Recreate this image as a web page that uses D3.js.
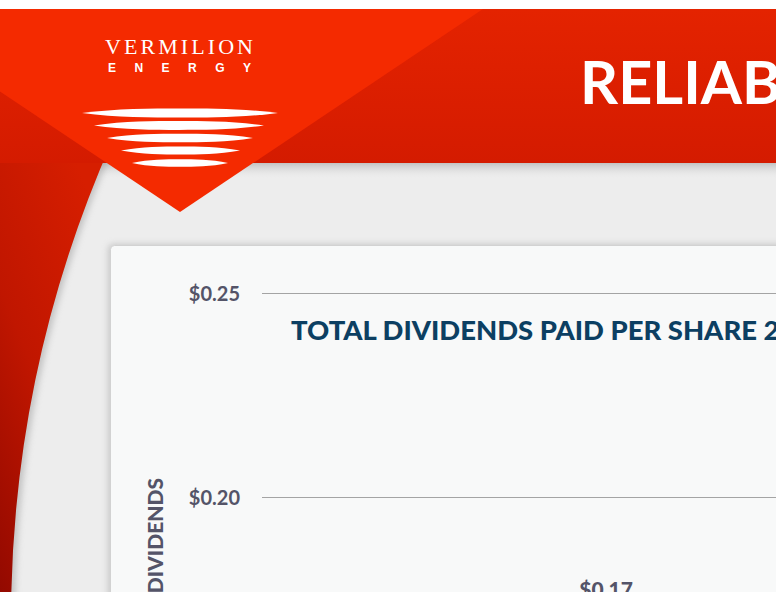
<!DOCTYPE html>
<html>
<head>
<meta charset="utf-8">
<script src="https://cdn.jsdelivr.net/npm/d3@7"></script>
<style>
  html, body { margin: 0; padding: 0; background: #ffffff; }
  svg { display: block; }
</style>
</head>
<body>
<div id="chart"></div>
<script>
// ---- data ----
const periods = ["2003–2007", "2008–2012", "2013"];
const periodStart = [2003, 2008, 2013];
const periodEnd = [2008, 2013, 2014];
const monthlyDividend = [0.17, 0.19, 0.20];
const yTicks = [0, 0.05, 0.10, 0.15, 0.20, 0.25];
const headerText = "RELIABLE DIVIDENDS";
const chartTitle = "TOTAL DIVIDENDS PAID PER SHARE 2003 – 2013";
const yAxisTitle = "DIVIDENDS";

const rows = periods.map((p, i) => ({
  period: p, start: periodStart[i], end: periodEnd[i], value: monthlyDividend[i]
}));

const W = 776, H = 600;
const svg = d3.select("#chart").append("svg").attr("width", W).attr("height", H);
const defs = svg.append("defs");

defs.append("clipPath").attr("id", "frame")
  .append("rect").attr("x", 0).attr("y", 9).attr("width", W).attr("height", 583);

const gBanner = defs.append("linearGradient").attr("id", "banner").attr("x1", 0).attr("y1", 0).attr("x2", 0).attr("y2", 1);
gBanner.append("stop").attr("offset", "0%").attr("stop-color", "#e42300");
gBanner.append("stop").attr("offset", "100%").attr("stop-color", "#d41b00");

const gArc = defs.append("linearGradient").attr("id", "arc").attr("x1", 0.6).attr("y1", 0).attr("x2", 0).attr("y2", 1);
gArc.append("stop").attr("offset", "0%").attr("stop-color", "#d61e00");
gArc.append("stop").attr("offset", "50%").attr("stop-color", "#c01600");
gArc.append("stop").attr("offset", "100%").attr("stop-color", "#920900");

const gShadow = defs.append("linearGradient").attr("id", "bshadow").attr("x1", 0).attr("y1", 0).attr("x2", 0).attr("y2", 1);
gShadow.append("stop").attr("offset", "0%").attr("stop-color", "#b8b8b8").attr("stop-opacity", 0.8);
gShadow.append("stop").attr("offset", "100%").attr("stop-color", "#ececec").attr("stop-opacity", 0);

const blur = defs.append("filter").attr("id", "soft").attr("x", "-10%").attr("y", "-10%").attr("width", "120%").attr("height", "120%");
blur.append("feGaussianBlur").attr("stdDeviation", 3);

const root = svg.append("g").attr("clip-path", "url(#frame)");

// background
root.append("rect").attr("x", 0).attr("y", 0).attr("width", W).attr("height", H).attr("fill", "#ededed");

// banner shadow
root.append("rect").attr("x", 0).attr("y", 163).attr("width", W).attr("height", 16).attr("fill", "url(#bshadow)");

// left red arc
const cx = 1196, cy = 620, R = 1185;
const xAt = yy => cx - Math.sqrt(R * R - (yy - cy) * (yy - cy));
const arcPath = `M0,140 L${xAt(140)},140 A${R},${R} 0 0 0 ${xAt(600)},600 L0,600 Z`;
root.append("path").attr("d", arcPath).attr("fill", "#9a9a9a").attr("opacity", 0.5)
  .attr("transform", "translate(4,0)").attr("filter", "url(#soft)");
root.append("path").attr("d", arcPath).attr("fill", "url(#arc)");

// banner
root.append("rect").attr("x", 0).attr("y", 9).attr("width", W).attr("height", 154).attr("fill", "url(#banner)");

// logo triangle
const slope = 0.67, apexX = 180, apexY = 212;
root.append("path")
  .attr("d", `M${apexX - (apexY - 9) / slope},9 L${apexX + (apexY - 9) / slope},9 L${apexX},${apexY} Z`)
  .attr("fill", "#f42a00");

// logo wave lines
const waves = [[82, 278, 113, 4.6], [94, 264, 125.5, 4.4], [107, 253, 138, 4.2], [121, 240, 150.5, 4.0], [132, 228, 163, 3.8]];
root.selectAll("path.wave").data(waves).join("path").attr("class", "wave")
  .attr("d", d => {
    const [x0, x1, yy, h] = d, L = x1 - x0, m = (x0 + x1) / 2;
    return `M${x0},${yy}` +
      ` C${x0 + L * 0.18},${yy - h} ${m - L * 0.15},${yy - h} ${m},${yy - h}` +
      ` C${m + L * 0.15},${yy - h} ${x1 - L * 0.18},${yy - h} ${x1},${yy}` +
      ` C${x1 - L * 0.18},${yy + h} ${m + L * 0.15},${yy + h} ${m},${yy + h}` +
      ` C${m - L * 0.15},${yy + h} ${x0 + L * 0.18},${yy + h} ${x0},${yy} Z`;
  })
  .attr("fill", "#ffffff");

root.append("text").text("VERMILION")
  .attr("x", 105).attr("y", 54)
  .attr("textLength", 148).attr("lengthAdjust", "spacing")
  .attr("font-family", "Liberation Serif, DejaVu Serif, serif").attr("font-size", 22)
  .attr("fill", "#ffffff");
root.append("text").text("ENERGY")
  .attr("x", 108).attr("y", 72)
  .attr("textLength", 143).attr("lengthAdjust", "spacing")
  .attr("font-family", "Liberation Sans, Arial, sans-serif").attr("font-weight", 700).attr("font-size", 12)
  .attr("fill", "#ffffff");

// header
const header = root.append("text").text(headerText)
  .attr("x", 0).attr("y", 0)
  .attr("font-family", "Lato, sans-serif").attr("font-weight", 700).attr("font-size", 59)
  .attr("fill", "#ffffff");
{
  const w = header.node().getSubStringLength(0, 5);
  header.attr("transform", `translate(580,104) scale(${162 / w},1)`);
}

// panel
root.append("rect").attr("x", 108).attr("y", 244).attr("width", 800).attr("height", 500).attr("rx", 5)
  .attr("fill", "#b0b0b0").attr("opacity", 0.6).attr("filter", "url(#soft)");
root.append("rect").attr("x", 110.5).attr("y", 245.5).attr("width", 800).attr("height", 500).attr("rx", 4)
  .attr("fill", "#f8f9f9").attr("stroke", "#d2d2d2");

// scales
const y = d3.scaleLinear().domain([0, 0.25]).range([1313, 293]);
const x = d3.scaleLinear().domain([2003, 2014]).range([262, 1776]);

// gridlines + tick labels
const axis = d3.axisLeft(y).tickValues(yTicks).tickFormat(d => "$" + d.toFixed(2))
  .tickSize(-(1776 - 262)).tickPadding(22);
const gAxis = root.append("g").attr("transform", "translate(262,0)").call(axis);
gAxis.select(".domain").remove();
gAxis.selectAll(".tick line").attr("stroke", "#a4a4a4").attr("stroke-width", 1);
gAxis.selectAll(".tick text")
  .attr("font-family", "Lato, sans-serif").attr("font-weight", 700).attr("font-size", 20)
  .attr("fill", "#545468").attr("dy", "0.36em");

// y axis title
root.append("text").text(yAxisTitle)
  .attr("transform", "translate(163,478) rotate(-90)")
  .attr("text-anchor", "end")
  .attr("font-family", "Lato, sans-serif").attr("font-weight", 900).attr("font-size", 21)
  .attr("fill", "#545468");

// chart title
const title = root.append("text").text(chartTitle)
  .attr("x", 0).attr("y", 0)
  .attr("font-family", "Lato, sans-serif").attr("font-weight", 900).attr("font-size", 27)
  .attr("fill", "#0c3f62");
{
  const w = title.node().getSubStringLength(0, 30);
  title.attr("transform", `translate(291,340) scale(${466 / w},1)`);
}

// bars (step runs)
root.selectAll("rect.bar").data(rows).join("rect").attr("class", "bar")
  .attr("x", d => x(d.start) + 2).attr("width", d => x(d.end) - x(d.start) - 4)
  .attr("y", d => y(d.value)).attr("height", d => y(0) - y(d.value))
  .attr("fill", "#e42300");

root.selectAll("text.val").data(rows).join("text").attr("class", "val")
  .attr("x", d => x((d.start + d.end) / 2)).attr("y", d => y(d.value) - 22)
  .attr("text-anchor", "middle")
  .attr("font-family", "Lato, sans-serif").attr("font-weight", 900).attr("font-size", 21)
  .attr("fill", "#545468")
  .text(d => "$" + d.value.toFixed(2));
</script>
</body>
</html>
